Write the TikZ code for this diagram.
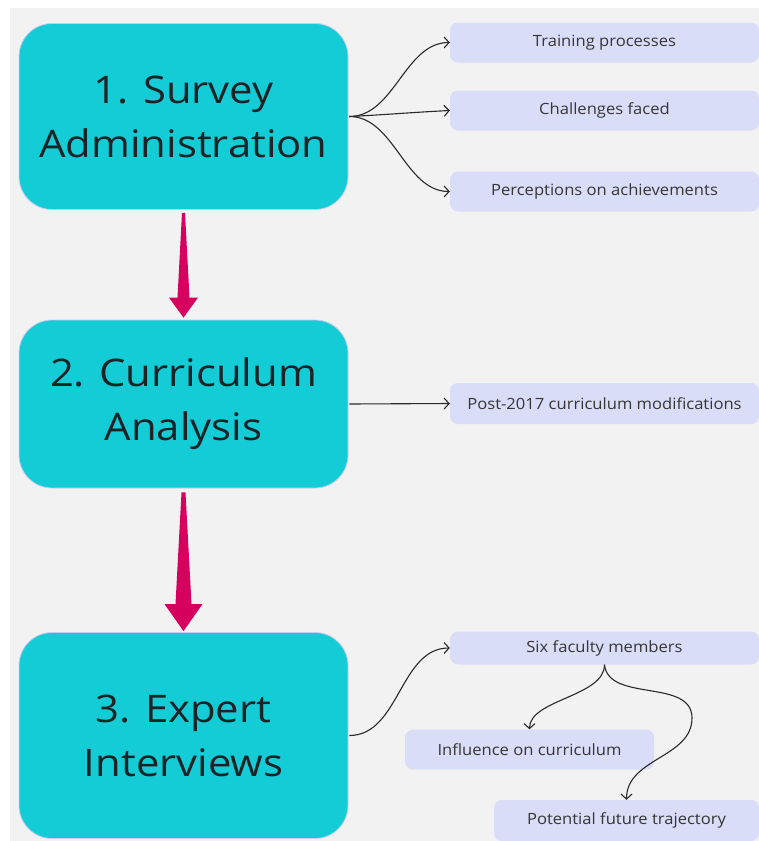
\documentclass[tikz,border=0pt]{standalone}
\usepackage{fontspec}
\setmainfont{Open Sans}
\newfontfamily\bigfont[FakeStretch=1.1]{Open Sans}
\newfontfamily\smallfont[FakeStretch=1.07]{Open Sans}
\usetikzlibrary{arrows.meta,calc}
\definecolor{bg}{HTML}{F2F2F2}
\definecolor{cyanbox}{HTML}{13CCD5}
\definecolor{cyanedge}{HTML}{C8CCF2}
\definecolor{lav}{HTML}{DADDF8}
\definecolor{pinkarr}{HTML}{D6005F}
\definecolor{bigtext}{HTML}{1C2326}
\definecolor{smalltext}{HTML}{363636}
\definecolor{conn}{HTML}{2A2A2A}
\tikzset{
  x=1pt, y=-1pt,
  bigbox/.style={draw=cyanedge, line width=0.8pt, fill=cyanbox, rounded corners=33pt,
    minimum width=329pt, align=center, text=bigtext, inner sep=0pt,
    font=\bigfont\fontsize{38}{54}\selectfont},
  smallbox/.style={fill=lav, rounded corners=8pt, inner sep=0pt, text=smalltext,
    font=\smallfont\fontsize{15.5}{18}\selectfont},
  conn/.style={draw=conn, line width=1.1pt, -{Straight Barb[length=5pt,width=11pt,line width=1.1pt]}},
  flowarr/.style={fill=pinkarr}
}
\begin{document}
\begin{tikzpicture}
\useasboundingbox (0,0) rectangle (759,841);
\fill[white] (0,0) rectangle (759,841);
\fill[bg] (10,8) rectangle (759,841);

% big boxes
\node[bigbox, minimum height=186pt] (b1) at (183.5,116.5) {1. Survey\\Administration};
\node[bigbox, minimum height=168pt] (b2) at (183.5,404) {2. Curriculum\\Analysis};
\node[bigbox, minimum height=206pt] (b3) at (183.5,735.5) {3. Expert\\Interviews};

% small boxes
\node[smallbox, minimum width=309pt, minimum height=40pt] (tr) at (604.5,42.5) {Training processes};
\node[smallbox, minimum width=309pt, minimum height=40pt] (ch) at (604.5,110.5) {Challenges faced};
\node[smallbox, minimum width=309pt, minimum height=40pt] (pe) at (604.5,191.5) {Perceptions on achievements};
\node[smallbox, minimum width=309pt, minimum height=41pt] (po) at (604.5,403.5) {Post-2017 curriculum modifications};
\node[smallbox, minimum width=309pt, minimum height=33pt] (si) at (604.5,648) {Six faculty members};
\node[smallbox, minimum width=249pt, minimum height=40pt] (in) at (529.5,749.5) {Influence on curriculum};
\node[smallbox, minimum width=265pt, minimum height=41pt] (pt) at (626.5,820.5) {Potential future trajectory};

% pink flow arrows
\fill[flowarr] ($(b1.south)+(-1.5,3)$) -- ($(b2.north)+(-6,-22)$) -- ($(b2.north)+(-14.5,-22)$)
  -- ($(b2.north)+(0,-2)$) -- ($(b2.north)+(14.5,-22)$) -- ($(b2.north)+(6,-22)$)
  -- ($(b1.south)+(1.5,3)$) -- cycle;
\fill[flowarr] ($(b2.south)+(-2,4)$) -- ($(b3.north)+(-8,-28)$) -- ($(b3.north)+(-19,-28)$)
  -- ($(b3.north)+(0,-1)$) -- ($(b3.north)+(19,-28)$) -- ($(b3.north)+(8,-28)$)
  -- ($(b2.south)+(2,4)$) -- cycle;

% connectors
\draw[conn] ($(b1.east)+(1,0)$) .. controls +(45,0) and +(-45,0) .. (tr.west);
\draw[conn] ($(b1.east)+(1,0)$) .. controls +(40,-2) and +(-40,2) .. (ch.west);
\draw[conn] ($(b1.east)+(1,0)$) .. controls +(45,0) and +(-45,0) .. (pe.west);
\draw[conn] ($(b2.east)+(1,0)$) -- (po.west);
\draw[conn] ($(b3.east)+(1,0)$) .. controls +(50,0) and +(-50,0) .. (si.west);
\draw[conn] (si.south) .. controls +(0,32) and +(0,-30) .. (in.north);
\draw[conn] (si.south) .. controls +(4,38) and +(0,-40) .. (692,718)
  .. controls +(0,40) and +(0,-42) .. (pt.north);
\end{tikzpicture}
\end{document}
